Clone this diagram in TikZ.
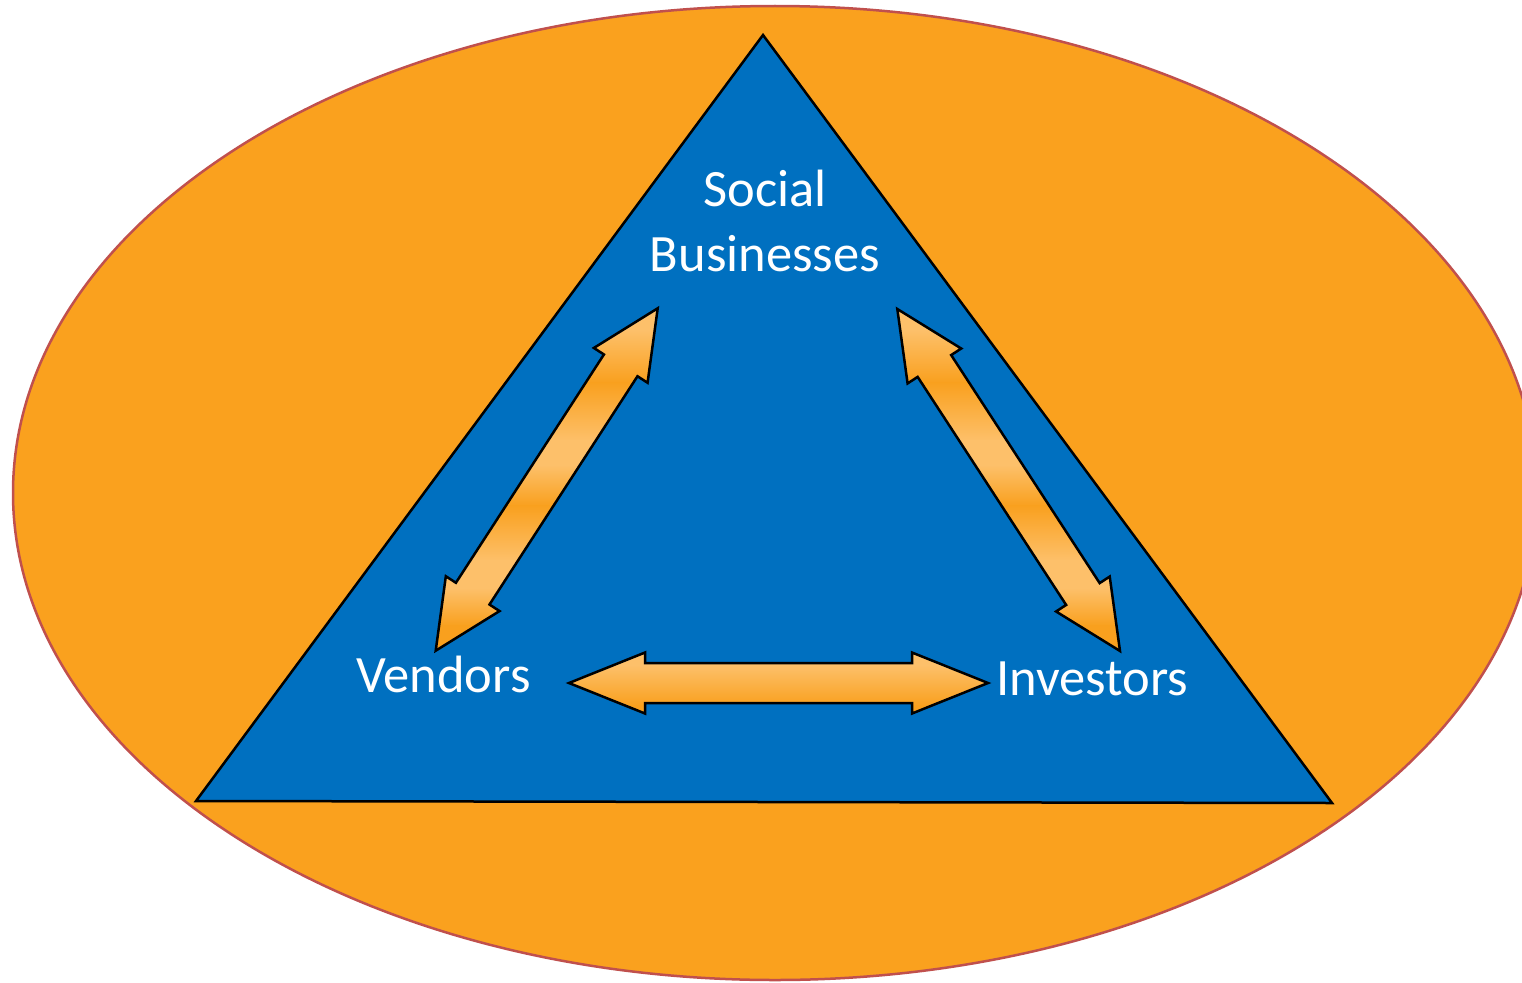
\documentclass[tikz,border=0pt]{standalone}
\usepackage{fontspec}
\setmainfont{Carlito}
\usetikzlibrary{calc}

\definecolor{ovalfill}{RGB}{250,161,30}
\definecolor{ovalline}{RGB}{192,80,77}
\definecolor{triblue}{RGB}{0,112,192}
\definecolor{arrowlight}{RGB}{253,192,106}
\definecolor{arrowdark}{RGB}{249,160,30}

\tikzset{
  oval/.style={fill=ovalfill, draw=ovalline, line width=2.5pt},
  tribox/.style={fill=triblue, draw=black, line width=2.5pt, line join=miter},
  arrowline/.style={draw=black, line width=2.5pt, line join=miter},
  wordlbl/.style={text=white, inner sep=0pt, font=\fontsize{52.5}{65}\selectfont},
}

% Double-headed block arrow between two named coordinates.
% #1 start, #2 end, #3 shaft half width, #4 head half width, #5 head length,
% #6 colour bands painted inside the outline.
\newcommand\blockarrow[6]{%
  \coordinate (#1h) at ($(#1)!#5!(#2)$);
  \coordinate (#2h) at ($(#2)!#5!(#1)$);
  \def\arrowpath{(#1)
    -- ($(#1h)!#4!-90:(#2)$) -- ($(#1h)!#3!-90:(#2)$)
    -- ($(#2h)!#3!-90:(#2)$) -- ($(#2h)!#4!-90:(#2)$)
    -- (#2)
    -- ($(#2h)!#4!90:(#2)$) -- ($(#2h)!#3!90:(#2)$)
    -- ($(#1h)!#3!90:(#2)$) -- ($(#1h)!#4!90:(#2)$)
    -- cycle}%
  \begin{scope}
    \clip \arrowpath;
    #6
  \end{scope}
  \draw[arrowline] \arrowpath;
}

% Banded fill of the slanted arrows
\newcommand\slantbands{%
  \fill[arrowlight] (0,295) rectangle (1522,331);
  \shade[top color=arrowlight,bottom color=arrowdark] (0,330) rectangle (1522,383);
  \shade[top color=arrowdark,bottom color=arrowlight] (0,382) rectangle (1522,441);
  \fill[arrowlight] (0,440) rectangle (1522,466);
  \shade[top color=arrowlight,bottom color=arrowdark] (0,465) rectangle (1522,506);
  \shade[top color=arrowdark,bottom color=arrowlight] (0,505) rectangle (1522,561);
  \fill[arrowlight] (0,560) rectangle (1522,589);
  \shade[top color=arrowlight,bottom color=arrowdark] (0,588) rectangle (1522,626);
  \fill[arrowdark] (0,625) rectangle (1522,665);
}

% Top-to-bottom fill of the level arrow
\newcommand\levelbands{%
  \fill[arrowlight] (0,645) rectangle (1522,666);
  \shade[top color=arrowlight,bottom color=arrowdark] (0,665) rectangle (1522,706);
  \fill[arrowdark] (0,705) rectangle (1522,722);
}

\begin{document}
\begin{tikzpicture}[x=1pt,y=-1pt]
  \useasboundingbox (0,0) rectangle (1522,982);

  % outer oval
  \draw[oval] (775,493) ellipse [x radius=762, y radius=487];

  % triangle
  \coordinate (apex) at (763,35);
  \coordinate (left) at (196,801);
  \coordinate (right) at (1332,803);
  \draw[tribox] (apex) -- (right) -- (left) -- cycle;

  % labels
  \node[wordlbl, align=center] (sb) at (765,221) {Social\\Businesses};
  \node[wordlbl, anchor=base] (vd) at (443.5,692) {Vendors};
  \node[wordlbl, anchor=base] (iv) at (1092.5,695) {Investors};

  % arrow end points
  \coordinate (vsA) at (435.7,650.7);
  \coordinate (vsB) at (657.7,308.3);
  \coordinate (isA) at (897.3,309);
  \coordinate (isB) at (1120,651);
  \coordinate (viA) at (569,683);
  \coordinate (viB) at (988,683);

  \blockarrow{vsA}{vsB}{20pt}{32pt}{68pt}{\slantbands}
  \blockarrow{isA}{isB}{20pt}{32pt}{68pt}{\slantbands}
  \blockarrow{viA}{viB}{20pt}{30.5pt}{76pt}{\levelbands}
\end{tikzpicture}
\end{document}
